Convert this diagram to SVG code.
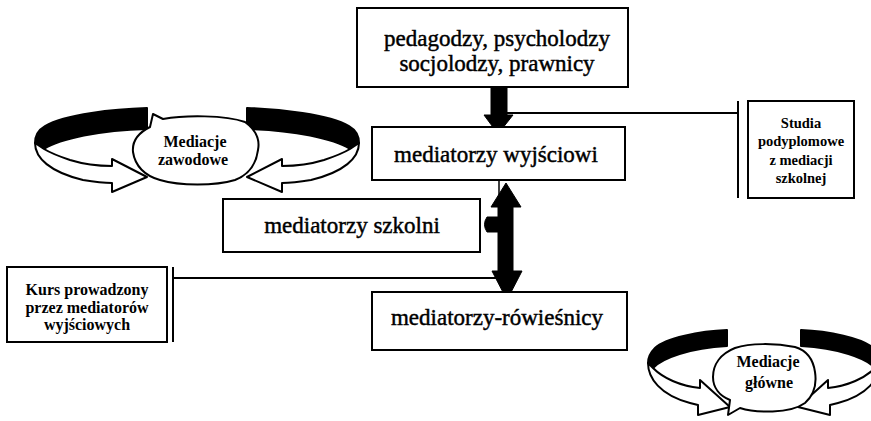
<svg xmlns="http://www.w3.org/2000/svg" width="871" height="421" viewBox="0 0 871 421">
<style>
text{font-family:"Liberation Serif","Times New Roman","DejaVu Serif",serif;fill:#000;text-anchor:middle}
.box{fill:#fff;stroke:#000;stroke-width:2}
.big{font-size:23px;stroke:#000;stroke-width:0.45}
.small{font-size:14.5px;font-weight:bold}
.kurs{font-size:16px;font-weight:bold}
.blobt{font-size:16px;font-weight:bold}
.blob{fill:#fff;stroke:#000;stroke-width:2;stroke-linejoin:round}
.band{fill:#000;stroke:#000;stroke-width:2;stroke-linejoin:round}
.wband{fill:#fff;stroke:#000;stroke-width:2;stroke-linejoin:round}
.line{fill:none;stroke:#000;stroke-width:2}
.thin{fill:none;stroke:#000;stroke-width:1.5}
.thick{fill:#000;stroke:#000;stroke-width:1}
</style>
<defs>
  <path id="bandL" d="M147,108 C115,109 65,114 45,126 C38,130 35,137 35,143 L44,149 C60,139 100,130 147,129 Z"/>
  <path id="arrowL" d="M35,143 C35,158 50,172 83,180 C95,182 105,183 112,183 L112,192 L147,177 L112,159 L112,166 C95,166 83,164 70,160 C58,156 49,152 44,149 Z"/>
  <path id="bandB" d="M727,330 C700,331 665,338 655,348 C650,353 648,359 648,363 L653,368 C662,358 690,348 727,346 Z"/>
  <path id="arrowB" d="M648,363 C648,378 660,395 690,403 L698,405 L698,415 L730,407 L700,380 L700,388 C680,386 663,378 653,368 Z"/>
</defs>
<rect width="871" height="421" fill="#fff"/>

<g id="connectors">
  <path class="thick" d="M491,87 L507,87 L507,115 L513,115 L498,134 L484,115 L491,115 Z"/>
  <line class="line" x1="507" y1="113" x2="738" y2="113"/>
  <line class="line" x1="738" y1="101" x2="738" y2="198"/>
  <line class="thin" x1="499" y1="180" x2="499" y2="196"/>
  <path class="thick" d="M506,183 L521,207 L513,207 L513,271 L522,271 L507,300 L492,271 L498,271 L498,207 L491,207 Z"/>
  <path class="thick" d="M498,217 L487,217 Q482,224.5 487,232 L498,232 Z"/>
  <line class="line" x1="173" y1="278" x2="496" y2="278"/>
  <line class="line" x1="173" y1="267" x2="173" y2="342"/>
</g>

<g id="node-top">
  <rect class="box" x="357" y="8" width="271" height="79"/>
  <text class="big" x="497" y="46" font-size="22">pedagodzy, psycholodzy</text>
  <text class="big" x="497" y="71" font-size="22">socjolodzy, prawnicy</text>
</g>

<g id="node-wyjsciowi">
  <rect class="box" x="372" y="127" width="253" height="53"/>
  <text class="big" x="496" y="162">mediatorzy wyjściowi</text>
</g>

<g id="node-szkolni">
  <rect class="box" x="223" y="199" width="257" height="53"/>
  <text class="big" x="352" y="233">mediatorzy szkolni</text>
</g>

<g id="node-rowiesnicy">
  <rect class="box" x="372" y="292" width="255" height="58"/>
  <text class="big" x="497" y="325">mediatorzy-rówieśnicy</text>
</g>

<g id="node-studia">
  <rect class="box" x="748" y="101" width="106" height="97"/>
  <text class="small" x="801" y="128">Studia</text>
  <text class="small" x="801" y="146">podyplomowe</text>
  <text class="small" x="801" y="165">z mediacji</text>
  <text class="small" x="801" y="183">szkolnej</text>
</g>

<g id="node-kurs">
  <rect class="box" x="7" y="267" width="160" height="75"/>
  <text class="kurs" x="87" y="295">Kurs prowadzony</text>
  <text class="kurs" x="87" y="313">przez mediatorów</text>
  <text class="kurs" x="87" y="330">wyjściowych</text>
</g>

<g id="node-zawodowe">
  <use href="#bandL" class="band"/>
  <use href="#arrowL" class="wband"/>
  <g transform="translate(394,0) scale(-1,1)">
    <use href="#bandL" class="band"/>
    <use href="#arrowL" class="wband"/>
  </g>
  <path class="blob" d="M153,114 L163,119 C185,115 225,115 245,122 C256,130 260,140 258,150 C256,165 248,175 235,180 C215,186 180,186 160,180 C145,176 135,166 133,152 C132,142 138,133 150,127 Z"/>
  <text class="blobt" x="195" y="147">Mediacje</text>
  <text class="blobt" x="193" y="165">zawodowe</text>
</g>

<g id="node-glowne">
  <use href="#bandB" class="band"/>
  <use href="#arrowB" class="wband"/>
  <g transform="translate(1528,0) scale(-1,1)">
    <use href="#bandB" class="band"/>
    <use href="#arrowB" class="wband"/>
  </g>
  <path class="blob" d="M728,415 L740,408 C755,413 790,414 805,403 C813,396 817,385 815,372 C813,358 805,350 795,347 C775,343 750,343 735,348 C720,354 713,365 713,377 C713,388 720,396 730,400 Z"/>
  <text class="blobt" x="768" y="367">Mediacje</text>
  <text class="blobt" x="769" y="388">główne</text>
</g>
</svg>
